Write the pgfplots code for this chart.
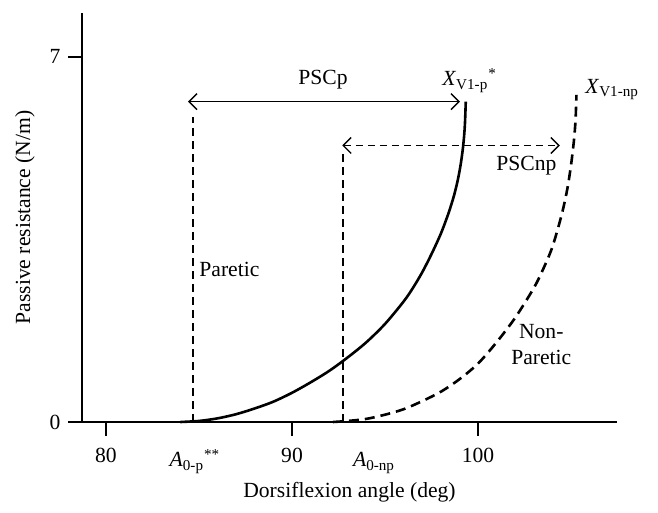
\documentclass[border=0pt]{standalone}
\usepackage{fontspec}
\setmainfont{Liberation Serif}
\usepackage{pgfplots}
\pgfplotsset{compat=1.18}
\usetikzlibrary{arrows.meta}
\newcommand{\fs}{\fontsize{10.8}{13}\selectfont}
\begin{document}
\fs
\begin{tikzpicture}
\useasboundingbox (-41pt,-45.5pt) rectangle (288pt,211pt);
\begin{axis}[
 scale only axis, width=267.5pt, height=204.5pt,
 xmin=78.71, xmax=107.47, ymin=0, ymax=7.84,
 axis x line=bottom, axis y line=left,
 axis line style={-, line width=0.9pt},
 xtick={80,90,100}, ytick={0,7},
 tick align=outside, major tick length=7pt,
 tick style={black, line width=0.9pt},
 /pgf/number format/assume math mode=true,
 ticklabel style={font=\fs},
 xticklabel style={yshift=-2.5pt},
 xlabel={Dorsiflexion angle (deg)},
 ylabel={Passive resistance (N/m)},
 label style={font=\fs},
 xlabel style={yshift=-2pt},
 clip=false,
]
% Paretic curve
\addplot[black, line width=1.3pt, smooth] coordinates {
(84.0,0) (85.0,0.02) (86.0,0.07) (87.0,0.15) (88.0,0.26) (89.0,0.39)
(90.0,0.56) (91.0,0.76) (92.0,0.98) (93.0,1.24) (94.0,1.53) (95.0,1.88)
(96.0,2.31) (96.5,2.57) (97.0,2.87) (97.5,3.22) (98.0,3.61) (98.4,3.99)
(98.7,4.33) (98.9,4.62) (99.05,4.90) (99.17,5.20) (99.25,5.48) (99.30,5.75)
(99.34,6.14)};
% Non-paretic curve
\addplot[black, line width=1.3pt, dash pattern=on 5pt off 3pt, smooth] coordinates {
(92.2,0) (93.0,0.02) (94.0,0.06) (95.0,0.14) (96.0,0.245) (97.0,0.40)
(98.0,0.58) (99.0,0.82) (100.0,1.12) (101.0,1.53) (102.0,2.00) (103.0,2.57)
(103.5,2.93) (104.0,3.36) (104.5,3.98) (104.8,4.47) (105.0,4.93)
(105.15,5.38) (105.24,5.78) (105.29,6.27)};
% vertical dashed guides
\addplot[black, line width=0.6pt, dash pattern=on 4pt off 2.5pt] coordinates {(84.68,0) (84.68,5.85)};
\addplot[black, line width=0.6pt, dash pattern=on 4pt off 2.5pt] coordinates {(92.74,0) (92.74,5.18)};
% PSC arrows
\addplot[black, line width=0.7pt, {Straight Barb[length=4pt,width=8pt]}-{Straight Barb[length=4pt,width=8pt]}] coordinates {(84.41,6.14) (99.03,6.14)};
\addplot[black, line width=0.7pt, dash pattern=on 3.5pt off 2.5pt, {Straight Barb[length=4pt,width=8pt]}-{Straight Barb[length=4pt,width=8pt]}] coordinates {(92.7,5.30) (104.4,5.30)};
% labels
\node[font=\fs] at (axis cs:91.67,6.56) {PSCp};
\node[font=\fs, anchor=west, inner sep=0pt] at (axis cs:98.06,6.55) {\textit{X}\textsubscript{V1-p}\textsuperscript{*}};
\node[font=\fs, anchor=west, inner sep=0pt] at (axis cs:105.75,6.37) {\textit{X}\textsubscript{V1-np}};
\node[font=\fs] at (axis cs:102.6,4.91) {PSCnp};
\node[font=\fs, anchor=west, inner sep=0pt] at (axis cs:85.0,2.93) {Paretic};
\node[font=\fs, align=center, inner sep=0pt] at (axis cs:103.4,1.48) {Non-\\Paretic};
\node[font=\fs, anchor=base] at (axis cs:84.78,0) [yshift=-22.5pt] {\textit{A}\textsubscript{0-p}\textsuperscript{**}};
\node[font=\fs, anchor=base] at (axis cs:94.41,0) [yshift=-22.5pt] {\textit{A}\textsubscript{0-np}};
\end{axis}
\end{tikzpicture}
\end{document}
